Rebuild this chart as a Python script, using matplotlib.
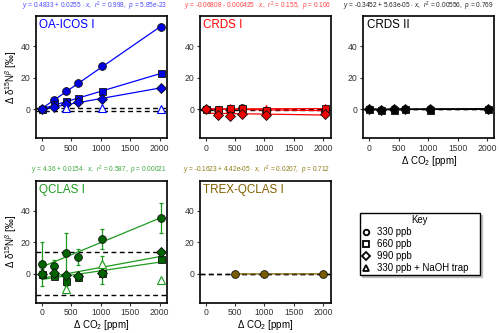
import numpy as np
import matplotlib
matplotlib.use("Agg")
import matplotlib.pyplot as plt
from matplotlib.lines import Line2D

plt.rcParams['font.family'] = ['Liberation Sans', 'DejaVu Sans']
plt.rcParams['mathtext.fontset'] = 'custom'
plt.rcParams['mathtext.rm'] = 'Liberation Sans'
plt.rcParams['mathtext.it'] = 'Liberation Sans:italic'

# ---- data ----
x_co2 = [0, 205, 415, 615, 1025, 2020]
x_naoh = [415, 1025, 2020]

oa_330 = [0, 5.7, 11.3, 16.9, 27.1, 52.2]
oa_660 = [0, 3.0, 5.0, 6.8, 11.3, 22.8]
oa_990 = [0, 1.5, 3.0, 4.4, 6.6, 13.6]
oa_naoh = [1.0, 0.8, 0.3]
oa_unc = 0.85

crds1_330 = [0, -0.3, 0.2, 0.5, -0.8, -0.9]
crds1_660 = [0, 0.0, 0.5, 0.8, -0.3, 0.5]
crds1_990 = [0, -3.5, -4.5, -2.9, -3.7, -2.9]
crds1_naoh = [0.8, 0.3, 1.0]
crds1_unc = 0.3

crds2_330 = [0, -0.3, 0.1, 0.2, 0.0, -0.1]
crds2_660 = [0, -0.6, -0.2, 0.0, -0.2, 0.2]
crds2_990 = [0, -0.2, -0.1, 0.2, 0.1, 0.3]
crds2_unc = 0.15

q_330 = [6.3, 4.8, 13.0, 10.5, 22.0, 35.3]
q_330_err = [14, 4.2, 13, 5.0, 6.4, 9.4]
q_660 = [0, -1.5, -4.6, -1.9, 0.4, 9.3]
q_660_err = [1.0, 1.0, 1.0, 1.0, 1.0, 1.0]
q_990 = [0, 0.3, -0.8, -1.5, 0.4, 13.7]
q_990_err = [3.0, 3.0, 1.0, 1.0, 6.7, 1.0]
q_naoh = [-9.8, 6.4, -4.0]
q_naoh_err = [2.1, 4.6, 0]
q_unc = 13.5

trex_x = [500, 1000, 2000]
trex_330 = [-0.1, -0.2, -0.05]
trex_unc = 0.05

titles = ["OA-ICOS I", "CRDS I", "CRDS II", "QCLAS I", "TREX-QCLAS I"]
eqs = [
    r"$y$ = 0.4833 + 0.0255 $\cdot$ $x$,  $r^2$ = 0.998,  $p$ = 5.85e-23",
    r"$y$ = -0.06808 - 0.000425 $\cdot$ $x$,  $r^2$ = 0.155,  $p$ = 0.106",
    r"$y$ = -0.3452 + 5.63e-05 $\cdot$ $x$,  $r^2$ = 0.00556,  $p$ = 0.769",
    r"$y$ = 4.36 + 0.0154 $\cdot$ $x$,  $r^2$ = 0.587,  $p$ = 0.00021",
    r"$y$ = -0.1623 + 4.42e-05 $\cdot$ $x$,  $r^2$ = 0.0207,  $p$ = 0.712",
]
main_cols = ['#0000FF', '#FF0000', '#000000', '#1E9B1E', '#806000']
fill_cols = ['#0000E0', '#F00000', '#000000', '#006400', '#7A5C00']
eq_cols = ['#4A4AFF', '#FF4040', '#222222', '#3DA83D', '#8A7A10']

fig = plt.figure(figsize=(5, 3.33), dpi=100)
W, H = 500, 333
def pos(left, top, w=131, h=122):
    return [left / W, 1 - (top + h) / H, w / W, h / H]

ax_pos = [pos(36, 16), pos(199.7, 16), pos(363.3, 16), pos(36, 180.5), pos(199.7, 180.5)]
axes = [fig.add_axes(p) for p in ax_pos]

ms = 5.6
def series(ax, x, y, marker, col, fill, err=None, fit=True):
    x = np.asarray(x, float); y = np.asarray(y, float)
    if fit:
        b, a = np.polyfit(x, y, 1)
        xx = np.array([x.min(), x.max()])
        ax.plot(xx, a + b * xx, color=col, lw=0.9, zorder=3)
    if err is not None:
        ax.errorbar(x, y, yerr=err, fmt='none', ecolor=col, elinewidth=0.9, capsize=1.5, capthick=0.9, zorder=3)
    ax.plot(x, y, ls='none', marker=marker, ms=ms if marker == 'o' else (ms * 0.9 if marker == 's' else ms * 0.85),
            mfc=fill, mec='#111111', mew=0.6, zorder=4)

def tri(ax, x, y, col, err=None):
    if err is not None:
        ax.errorbar(x, y, yerr=err, fmt='none', ecolor=col, elinewidth=0.9, capsize=1.5, capthick=0.9, zorder=3)
    ax.plot(x, y, ls='none', marker='^', ms=ms + 0.6, mfc='white', mec=col, mew=0.8, zorder=4)

def unc(ax, u):
    for v in (u, -u):
        ax.axhline(v, color='black', ls=(0, (3.5, 2.5)), lw=1.0, zorder=2)

# Panel 1
ax = axes[0]
unc(ax, oa_unc)
series(ax, x_co2, oa_330, 'o', main_cols[0], fill_cols[0])
series(ax, x_co2, oa_660, 's', main_cols[0], fill_cols[0])
series(ax, x_co2, oa_990, 'D', main_cols[0], fill_cols[0])
tri(ax, x_naoh, oa_naoh, main_cols[0])

# Panel 2
ax = axes[1]
unc(ax, crds1_unc)
tri(ax, x_naoh, crds1_naoh, main_cols[1])
series(ax, x_co2, crds1_330, 'o', main_cols[1], fill_cols[1])
series(ax, x_co2, crds1_660, 's', main_cols[1], fill_cols[1])
series(ax, x_co2, crds1_990, 'D', main_cols[1], fill_cols[1])

# Panel 3
ax = axes[2]
unc(ax, crds2_unc)
series(ax, x_co2, crds2_330, 'o', main_cols[2], fill_cols[2])
series(ax, x_co2, crds2_660, 's', main_cols[2], fill_cols[2])
series(ax, x_co2, crds2_990, 'D', main_cols[2], fill_cols[2])

# Panel 4
ax = axes[3]
unc(ax, q_unc)
series(ax, x_co2, q_330, 'o', main_cols[3], fill_cols[3], err=q_330_err)
series(ax, x_co2, q_660, 's', main_cols[3], fill_cols[3], err=q_660_err)
series(ax, x_co2, q_990, 'D', main_cols[3], fill_cols[3], err=q_990_err)
tri(ax, x_naoh, q_naoh, main_cols[3], err=q_naoh_err)

# Panel 5
ax = axes[4]
unc(ax, trex_unc)
series(ax, trex_x, trex_330, 'o', main_cols[4], fill_cols[4])

for i, ax in enumerate(axes):
    ax.set_xlim(-101, 2125)
    ax.set_ylim(-18.2, 59)
    ax.set_xticks([0, 500, 1000, 1500, 2000])
    ax.set_yticks([0, 20, 40])
    ax.tick_params(direction='out', length=2.5, width=0.8, color='#333333',
                   labelsize=6.2, labelcolor='#333333', pad=1.5)
    for s in ax.spines.values():
        s.set_linewidth(1.2)
        s.set_color('black')
    ax.text(0.025, 0.975, titles[i], transform=ax.transAxes, ha='left', va='top',
            fontsize=8.4, color=main_cols[i])
    ax.text(1.0, 1.025, eqs[i], transform=ax.transAxes, ha='right', va='bottom',
            fontsize=4.7, color=eq_cols[i])

ylab = r"Δ δ$^{15}$N$^{β}$ [‰]"
for i in (0, 3):
    axes[i].set_ylabel(ylab, fontsize=7, labelpad=1)
for i in (2, 3, 4):
    axes[i].set_xlabel(r"Δ CO$_2$ [ppm]", fontsize=7, labelpad=1)

handles = [
    Line2D([], [], ls='none', marker='o', ms=4, mfc='white', mec='black', mew=1.3),
    Line2D([], [], ls='none', marker='s', ms=4, mfc='white', mec='black', mew=1.3),
    Line2D([], [], ls='none', marker='D', ms=3.6, mfc='white', mec='black', mew=1.3),
    Line2D([], [], ls='none', marker='^', ms=4.2, mfc='white', mec='black', mew=1.3),
]
labels = ["330 ppb", "660 ppb", "990 ppb", "330 ppb + NaOH trap"]
leg = fig.legend(handles, labels, title="Key", loc='upper left',
                 bbox_to_anchor=(360 / W, 1 - 213 / H, 120 / W, 0), mode='expand',
                 fontsize=6.9, title_fontsize=6.9,
                 frameon=True, shadow={'ox': 1.5, 'oy': -1.5, 'color': '0.6', 'alpha': 0.5},
                 fancybox=False, handlelength=0.9,
                 handletextpad=0.7, labelspacing=0.22, borderpad=0.2, borderaxespad=0)
leg.get_frame().set_edgecolor('black')
leg.get_frame().set_linewidth(1.0)

fig.savefig("out.png", dpi=100)
